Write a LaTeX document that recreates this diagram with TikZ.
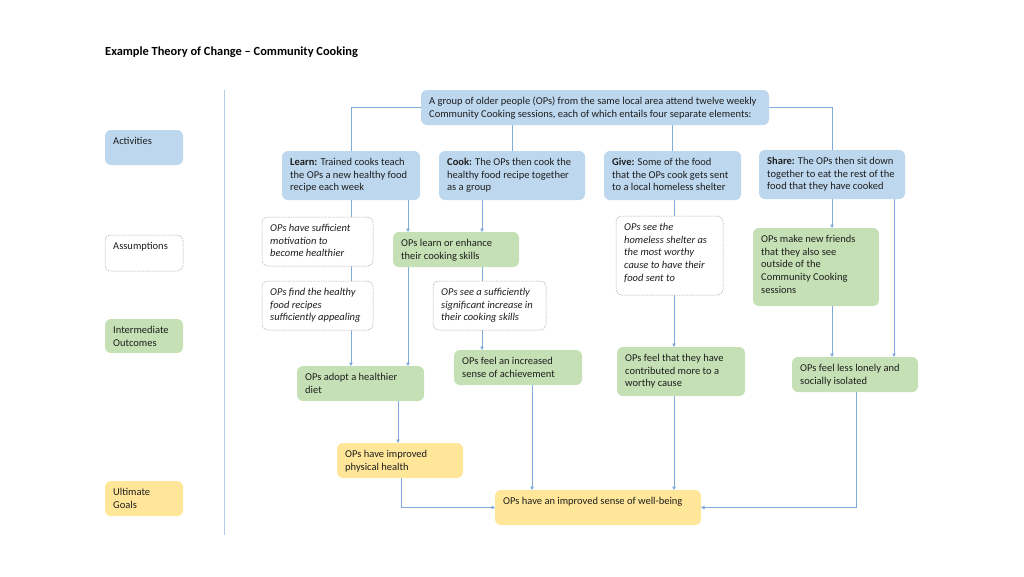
\documentclass[tikz,border=0pt]{standalone}
\usepackage{fontspec}
\setmainfont{Carlito}
\usetikzlibrary{arrows.meta,backgrounds}
\definecolor{blueF}{HTML}{BDD7EE}
\definecolor{greenF}{HTML}{C5E0B4}
\definecolor{yellowF}{HTML}{FFE699}
\definecolor{lineC}{HTML}{7FAADB}
\definecolor{dashC}{HTML}{A6A6A6}
\definecolor{txtC}{HTML}{1E1E1E}
\definecolor{sepC}{HTML}{B4CBE6}
\tikzset{
  boxbase/.style={rounded corners=6pt, inner sep=0pt, outer sep=0pt},
  bbox/.style={boxbase, fill=blueF},
  gbox/.style={boxbase, fill=greenF},
  ybox/.style={boxbase, fill=yellowF},
  dbox/.style={boxbase, fill=white, draw=dashC, line width=0.5pt, dash pattern=on 1.5pt off 1pt},
  txt/.style={anchor=north west, align=left, inner sep=0pt, text=txtC, font=\fontsize{10.5}{12.7}\selectfont},
  itxt/.style={txt, font=\fontsize{10.5}{12.7}\selectfont\itshape},
  ln/.style={draw=lineC, line width=0.7pt},
  ar/.style={ln, -{Triangle[length=3.5pt,width=3.5pt]}},
}
% name, box style, text style, x1, y1, x2, y2, text
\newcommand\bx[8]{%
  \node[#2, anchor=north west, minimum width={#6-#4}, minimum height={#7-#5}] (#1) at (#4,-#5) {};
  \node[#3] (#1t) at ([shift={(8,-7)}]#1.north west) {#8};
}
\begin{document}
\begin{tikzpicture}[x=1pt,y=1pt]
\useasboundingbox (0,0) rectangle (1024,-576);
\node[anchor=west, inner sep=0pt, text=black, font=\fontsize{12.4}{14}\selectfont\bfseries] (title) at (105,-52) {Example Theory of Change – Community Cooking};

% legend
\bx{legA}{bbox}{txt}{105}{130}{183}{165}{Activities}
\bx{legB}{dbox}{txt}{105}{235}{183}{271}{Assumptions}
\bx{legC}{gbox}{txt}{105}{319}{183}{353}{Intermediate\\Outcomes}
\bx{legD}{ybox}{txt}{105}{481}{183}{516}{Ultimate\\Goals}
\coordinate (sepTop) at (224,-90);
\coordinate (sepBot) at (224,-535);
\draw[draw=sepC, line width=0.8pt] (sepTop) -- (sepBot);

% activities
\bx{top}{bbox}{txt}{421}{90}{769}{125}{A group of older people (OPs) from the same local area attend twelve weekly\\Community Cooking sessions, each of which entails four separate elements:}
\bx{Learn}{bbox}{txt}{282}{151}{420}{200}{\textbf{Learn:} Trained cooks teach\\the OPs a new healthy food\\recipe each week}
\bx{Cook}{bbox}{txt}{439}{151}{585}{200}{\textbf{Cook:} The OPs then cook the\\healthy food recipe together\\as a group}
\bx{Give}{bbox}{txt}{604}{151}{741}{200}{\textbf{Give:} Some of the food\\that the OPs cook gets sent\\to a local homeless shelter}
\bx{Share}{bbox}{txt}{759}{150}{905}{199}{\textbf{Share:} The OPs then sit down\\together to eat the rest of the\\food that they have cooked}

% assumptions
\bx{motiv}{dbox}{itxt}{262}{217}{373}{266}{OPs have sufficient\\motivation to\\become healthier}
\bx{recipes}{dbox}{itxt}{262}{281}{373}{330}{OPs find the healthy\\food recipes\\sufficiently appealing}
\bx{signif}{dbox}{itxt}{433}{281}{546}{330}{OPs see a sufficiently\\significant increase in\\their cooking skills}
\bx{homeless}{dbox}{itxt}{616}{216}{723}{295}{OPs see the\\homeless shelter as\\the most worthy\\cause to have their\\food sent to}

% intermediate outcomes
\bx{skills}{gbox}{txt}{393}{232}{519}{267}{OPs learn or enhance\\their cooking skills}
\bx{friends}{gbox}{txt}{753}{228}{879}{306}{OPs make new friends\\that they also see\\outside of the\\Community Cooking\\sessions}
\bx{adopt}{gbox}{txt}{297}{366}{424}{401}{OPs adopt a healthier\\diet}
\bx{achieve}{gbox}{txt}{454}{350}{582}{385}{OPs feel an increased\\sense of achievement}
\bx{worthy}{gbox}{txt}{617}{347}{745}{396}{OPs feel that they have\\contributed more to a\\worthy cause}
\bx{lonely}{gbox}{txt}{792}{357}{918}{392}{OPs feel less lonely and\\socially isolated}

% ultimate goals
\bx{phys}{ybox}{txt}{337}{443}{463}{478}{OPs have improved\\physical health}
\bx{well}{ybox}{txt}{495}{490}{701}{525}{OPs have an improved sense of well-being}

\coordinate (x408) at (408,0);
\coordinate (x482) at (482,0);
\coordinate (x398) at (398,0);
\coordinate (x401) at (401,0);
\coordinate (x532) at (532,0);
\coordinate (x674) at (674,0);
\coordinate (x894) at (894,0);
\coordinate (x856) at (856,0);

\begin{pgfonlayer}{background}
\draw[ln] (top.west) -| (Learn.north);
\draw[ln] (top.east) -| (Share.north);
\draw[ln] (Cook.north |- top.south) -- (Cook.north);
\draw[ln] (Give.north |- top.south) -- (Give.north);
\draw[ar] (Learn.south) -- (adopt.north -| Learn.south);
\draw[ar] (Learn.south -| x408) -- (skills.north -| x408);
\draw[ar] (skills.south -| x408) -- (adopt.north -| x408);
\draw[ar] (Cook.south -| x482) -- (skills.north -| x482);
\draw[ar] (skills.south -| x482) -- (achieve.north -| x482);
\draw[ar] (adopt.south -| x398) -- (phys.north -| x398);
\draw[ar] (phys.south -| x401) |- (well.west);
\draw[ar] (achieve.south -| x532) -- (well.north -| x532);
\draw[ar] (Give.south -| x674) -- (worthy.north -| x674);
\draw[ar] (worthy.south -| x674) -- (well.north -| x674);
\draw[ar] (Share.south) -- (friends.north -| Share.south);
\draw[ar] (friends.south -| Share.south) -- (lonely.north -| Share.south);
\draw[ar] (Share.south -| x894) -- (lonely.north -| x894);
\draw[ar] (lonely.south -| x856) |- (well.east);
\end{pgfonlayer}
\end{tikzpicture}
\end{document}
